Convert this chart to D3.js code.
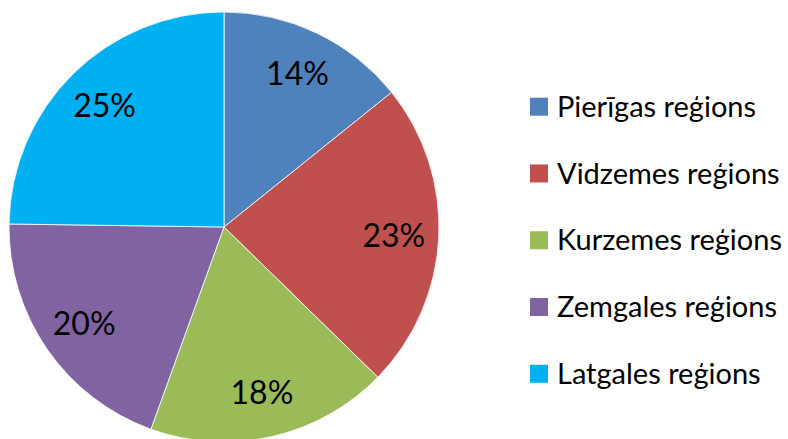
<!DOCTYPE html>
<html>
<head>
<meta charset="utf-8">
<script src="https://cdnjs.cloudflare.com/ajax/libs/d3/7.8.5/d3.min.js"></script>
<style>
  body { margin: 0; background: #fff; }
  text { font-family: Lato, "Open Sans", sans-serif; fill: #000; }
</style>
</head>
<body>
<div class="chart"></div>
<script>
// Data
var regions = ['Pierīgas reģions', 'Vidzemes reģions', 'Kurzemes reģions', 'Zemgales reģions', 'Latgales reģions'];
var shares = [14.3, 23.2, 18.3, 19.8, 24.9];
var colors = ['#4F81BD', '#C0504D', '#9BBB59', '#8064A2', '#00B0F0'];

var svgWidth = 788;
var svgHeight = 439;

var svg = d3.select('.chart')
  .append('svg')
  .attr('width', svgWidth)
  .attr('height', svgHeight);

var radius = 215;
var pieGroup = svg.append('g')
  .attr('transform', 'translate(224, 227)');

var total = d3.sum(shares);
var data = regions.map((r, i) => ({ region: r, value: shares[i], color: colors[i] }));

var pie = d3.pie().sort(null).value(d => d.value);
var arc = d3.arc().innerRadius(0).outerRadius(radius);
var labelArc = d3.arc().innerRadius(170).outerRadius(170);

var arcs = pie(data);

pieGroup.selectAll('path')
  .data(arcs)
  .enter()
    .append('path')
    .attr('d', arc)
    .attr('fill', d => d.data.color)
    .attr('stroke', '#fff')
    .attr('stroke-width', 0.8);

pieGroup.selectAll('text')
  .data(arcs)
  .enter()
    .append('text')
    .attr('transform', d => `translate(${labelArc.centroid(d)})`)
    .attr('text-anchor', 'middle')
    .attr('dy', '0.36em')
    .style('font-size', '32px')
    .text(d => Math.round(d.data.value / total * 100) + '%');

// Legend
var legendY = d3.scalePoint()
  .domain(regions)
  .range([106.7, 373.8]);

var legend = svg.append('g');

var items = legend.selectAll('g')
  .data(data)
  .enter()
    .append('g')
    .attr('transform', d => `translate(530, ${legendY(d.region)})`);

items.append('rect')
  .attr('x', 0)
  .attr('y', -9)
  .attr('width', 18)
  .attr('height', 18)
  .attr('fill', d => d.color);

items.append('text')
  .attr('x', 27)
  .attr('y', 0)
  .attr('dy', '0.35em')
  .style('font-size', '29px')
  .text(d => d.region);
</script>
</body>
</html>
